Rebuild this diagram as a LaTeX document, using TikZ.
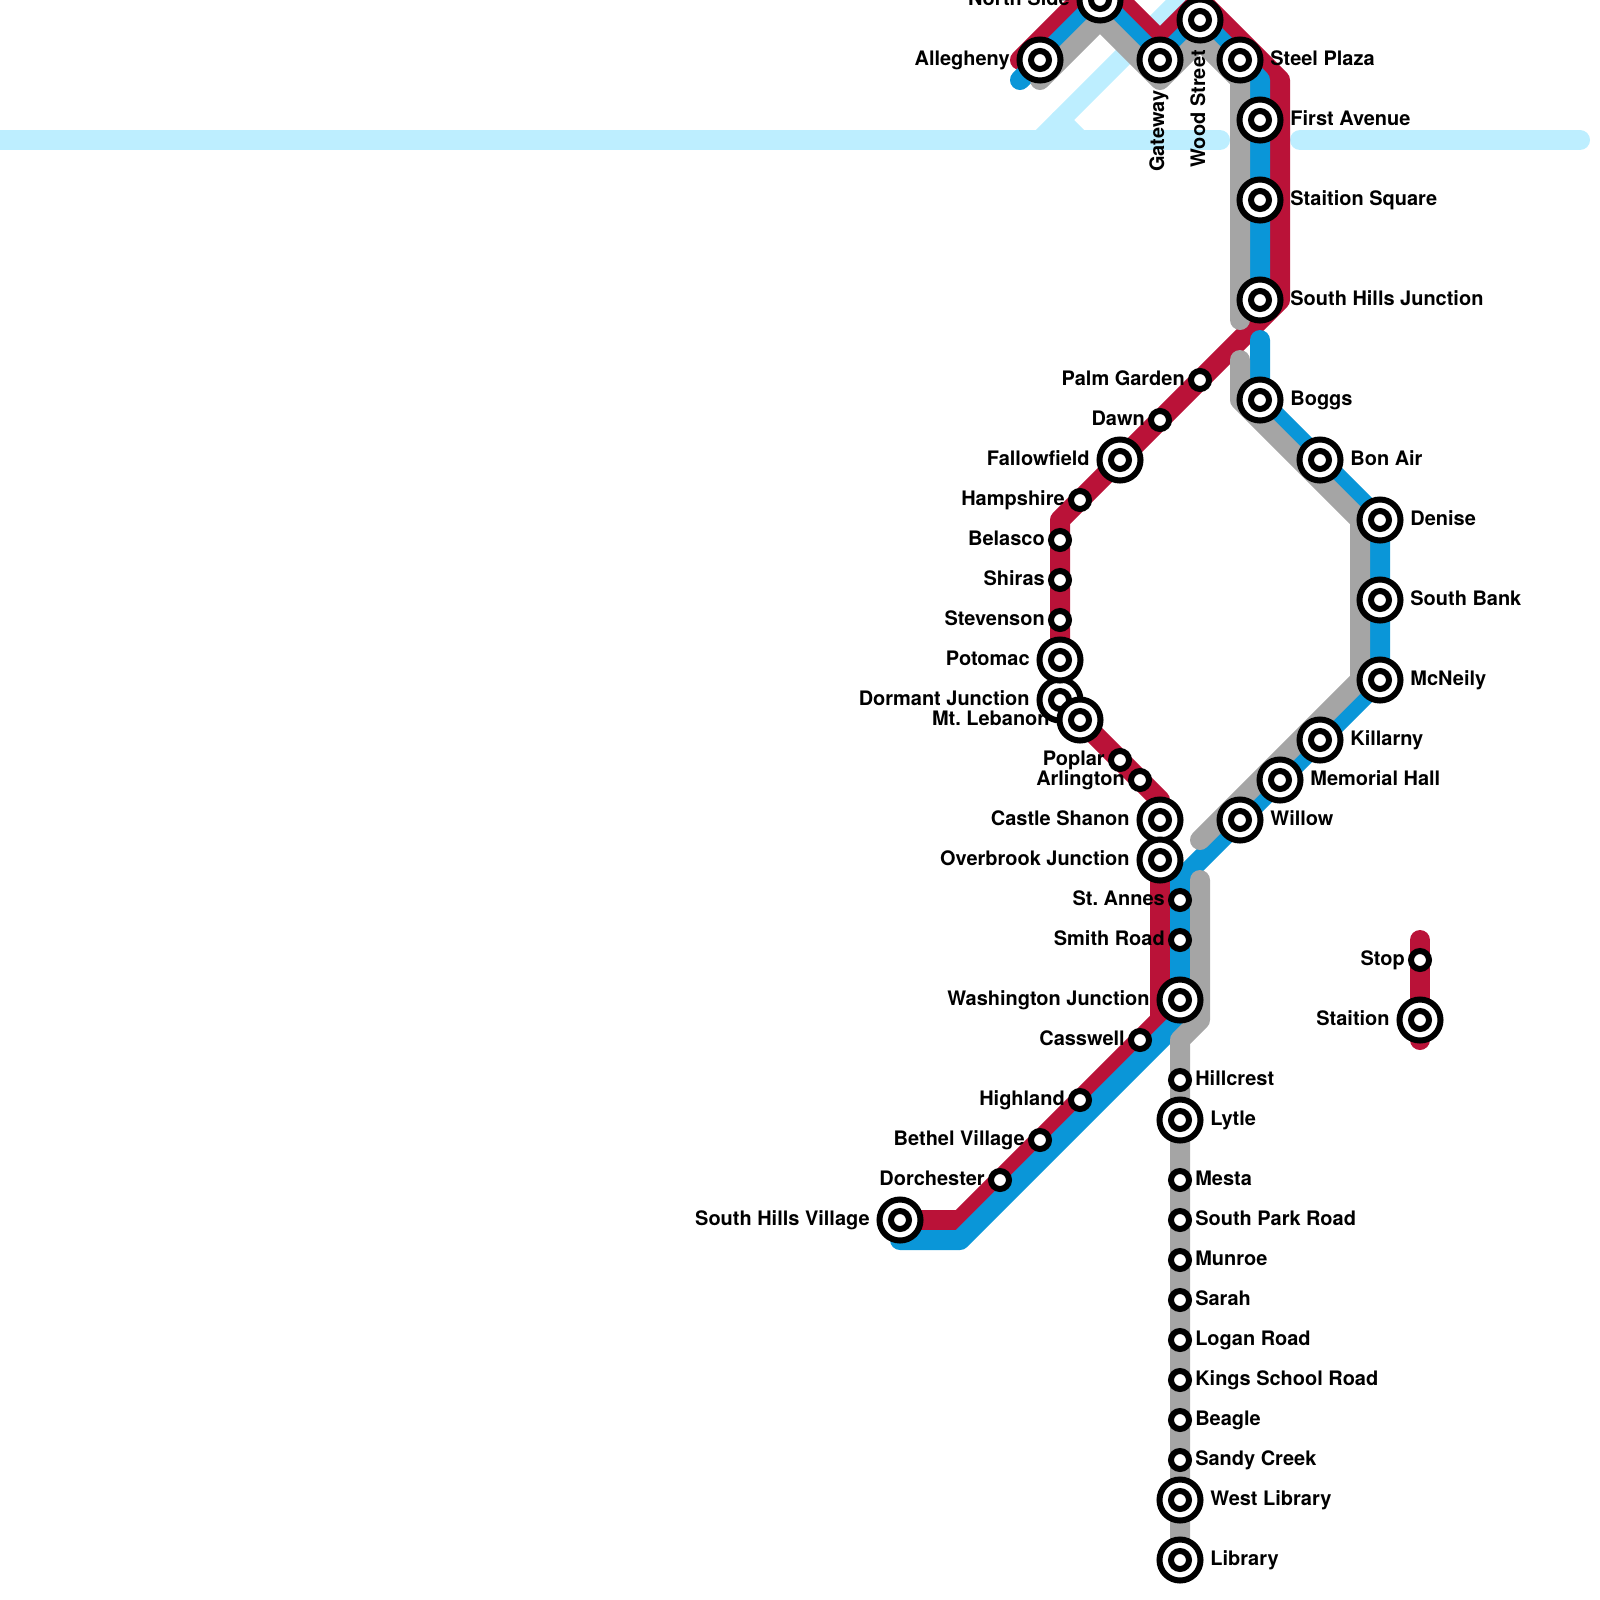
\documentclass[tikz,border=0pt]{standalone}
\usepackage{fontspec}
\setmainfont{TeX Gyre Heros}
\frenchspacing
\usetikzlibrary{positioning, backgrounds}
\definecolor{redline}{HTML}{BA1238}
\definecolor{blueline}{HTML}{0A96D8}
\definecolor{grayline}{HTML}{A5A5A5}
\definecolor{riverline}{HTML}{BDEEFF}
\tikzstyle{ln}=[line width=.5cm, line cap=round, line join=round]
\tikzstyle{stop}=[circle, draw=black, fill=white, line width=.15cm, inner sep=0pt, outer sep=0pt, minimum size=.45cm]
\tikzstyle{bigstop}=[stop, minimum size=1.025cm, path picture={\draw[line width=.15cm] (path picture bounding box.center) circle (.225cm);}]
\tikzstyle{lbl}=[font=\fontsize{14.2}{16}\selectfont\bfseries, inner sep=0pt, text height=.35cm, text depth=.1cm, node distance=.15cm]
\tikzstyle{biglbl}=[lbl, node distance=.24cm]

\begin{document}
\begin{tikzpicture}[x=.025cm, y=-.025cm]
    \useasboundingbox (0,0) rectangle (1600,1600);

    % west end and top branch
    \node[bigstop] (alg) at (1040,60) {};
    \node[biglbl, left=of alg] (talg) {Allegheny};
    \node[bigstop] (nside) at (1100,0) {};
    \node[biglbl, left=of nside] (tnside) {North Side};
    \node[bigstop] (gate) at (1160,60) {};
    \node[lbl, rotate=90, anchor=east] (tgate) at (1159,90) {Gateway};
    \node[bigstop] (wood) at (1200,20) {};
    \node[lbl, rotate=90, anchor=east] (twood) at (1200,50) {Wood Street};
    \node[bigstop] (steel) at (1240,60) {};
    \node[biglbl, right=of steel] (tsteel) {Steel Plaza};
    \node[bigstop] (first) at (1260,120) {};
    \node[biglbl, right=of first] (tfirst) {First Avenue};
    \node[bigstop] (ssq) at (1260,200) {};
    \node[biglbl, right=of ssq] (tssq) {Staition Square};
    \node[bigstop] (shj) at (1260,300) {};
    \node[biglbl, right=of shj] (tshj) {South Hills Junction};

    % red west side
    \node[stop] (palm) at (1200,380) {};
    \node[lbl, left=of palm] (tpalm) {Palm Garden};
    \node[stop] (dawn) at (1160,420) {};
    \node[lbl, left=of dawn] (tdawn) {Dawn};
    \node[bigstop] (fall) at (1120,460) {};
    \node[biglbl, left=of fall] (tfall) {Fallowfield};
    \node[stop] (hamp) at (1080,500) {};
    \node[lbl, left=of hamp] (thamp) {Hampshire};
    \node[stop] (bel) at (1060,540) {};
    \node[lbl, left=of bel] (tbel) {Belasco};
    \node[stop] (shir) at (1060,580) {};
    \node[lbl, left=of shir] (tshir) {Shiras};
    \node[stop] (stev) at (1060,620) {};
    \node[lbl, left=of stev] (tstev) {Stevenson};
    \node[bigstop] (dorm) at (1060,700) {};
    \node[biglbl, left=of dorm] (tdorm) {Dormant Junction};
    \node[bigstop] (pot) at (1060,660) {};
    \node[biglbl, left=of pot] (tpot) {Potomac};
    \node[bigstop] (leb) at (1080,720) {};
    \node[biglbl, left=of leb] (tleb) {Mt. Lebanon};
    \node[stop] (pop) at (1120,760) {};
    \node[lbl, left=of pop] (tpop) {Poplar};
    \node[stop] (arl) at (1140,780) {};
    \node[lbl, left=of arl] (tarl) {Arlington};
    \node[bigstop] (castle) at (1160,820) {};
    \node[biglbl, left=of castle] (tcastle) {Castle Shanon};
    \node[bigstop] (over) at (1160,860) {};
    \node[biglbl, left=of over] (tover) {Overbrook Junction};

    % blue east side
    \node[bigstop] (boggs) at (1260,400) {};
    \node[biglbl, right=of boggs] (tboggs) {Boggs};
    \node[bigstop] (bon) at (1320,460) {};
    \node[biglbl, right=of bon] (tbon) {Bon Air};
    \node[bigstop] (den) at (1380,520) {};
    \node[biglbl, right=of den] (tden) {Denise};
    \node[bigstop] (sbank) at (1380,600) {};
    \node[biglbl, right=of sbank] (tsbank) {South Bank};
    \node[bigstop] (mcn) at (1380,680) {};
    \node[biglbl, right=of mcn] (tmcn) {McNeily};
    \node[bigstop] (kil) at (1320,740) {};
    \node[biglbl, right=of kil] (tkil) {Killarny};
    \node[bigstop] (mem) at (1280,780) {};
    \node[biglbl, right=of mem] (tmem) {Memorial Hall};
    \node[bigstop] (wil) at (1240,820) {};
    \node[biglbl, right=of wil] (twil) {Willow};

    % trunk to the south
    \node[stop] (annes) at (1180,900) {};
    \node[lbl, left=of annes] (tannes) {St. Annes};
    \node[stop] (smith) at (1180,940) {};
    \node[lbl, left=of smith] (tsmith) {Smith Road};
    \node[bigstop] (wash) at (1180,1000) {};
    \node[biglbl, left=of wash] (twash) {Washington Junction};
    \node[stop] (cass) at (1140,1040) {};
    \node[lbl, left=of cass] (tcass) {Casswell};
    \node[stop] (high) at (1080,1100) {};
    \node[lbl, left=of high] (thigh) {Highland};
    \node[stop] (beth) at (1040,1140) {};
    \node[lbl, left=of beth] (tbeth) {Bethel Village};
    \node[stop] (dorch) at (1000,1180) {};
    \node[lbl, left=of dorch] (tdorch) {Dorchester};
    \node[bigstop] (shv) at (900,1220) {};
    \node[biglbl, left=of shv] (tshv) {South Hills Village};

    % gray to library
    \node[stop] (hill) at (1180,1080) {};
    \node[lbl, right=of hill] (thill) {Hillcrest};
    \node[bigstop] (lyt) at (1180,1120) {};
    \node[biglbl, right=of lyt] (tlyt) {Lytle};
    \node[stop] (mes) at (1180,1180) {};
    \node[lbl, right=of mes] (tmes) {Mesta};
    \node[stop] (spr) at (1180,1220) {};
    \node[lbl, right=of spr] (tspr) {South Park Road};
    \node[stop] (mun) at (1180,1260) {};
    \node[lbl, right=of mun] (tmun) {Munroe};
    \node[stop] (sar) at (1180,1300) {};
    \node[lbl, right=of sar] (tsar) {Sarah};
    \node[stop] (log) at (1180,1340) {};
    \node[lbl, right=of log] (tlog) {Logan Road};
    \node[stop] (kin) at (1180,1380) {};
    \node[lbl, right=of kin] (tkin) {Kings School Road};
    \node[stop] (bea) at (1180,1420) {};
    \node[lbl, right=of bea] (tbea) {Beagle};
    \node[stop] (san) at (1180,1460) {};
    \node[lbl, right=of san] (tsan) {Sandy Creek};
    \node[bigstop] (wlib) at (1180,1500) {};
    \node[biglbl, right=of wlib] (twlib) {West Library};
    \node[bigstop] (lib) at (1180,1560) {};
    \node[biglbl, right=of lib] (tlib) {Library};

    % the short piece
    \node[stop] (lstop) at (1420,960) {};
    \node[lbl, left=of lstop] (tlstop) {Stop};
    \node[bigstop] (lstn) at (1420,1020) {};
    \node[biglbl, left=of lstn] (tlstn) {Staition};

    % bends and line ends
    \coordinate (rv0) at (-20,140);
    \coordinate (rv1) at (1040,140);
    \coordinate (rv2) at (1200,-20);
    \coordinate (rv3) at (1060,120);
    \coordinate (rv4) at (1080,140);
    \coordinate (rv5) at (1220,140);
    \coordinate (rv6) at (1300,140);
    \coordinate (rv7) at (1580,140);
    \coordinate (r0) at (1020,60);
    \coordinate (r1) at (1100,-20);
    \coordinate (r2) at (1160,40);
    \coordinate (r3) at (1200,0);
    \coordinate (r4) at (1280,80);
    \coordinate (r5) at (1280,300);
    \coordinate (r6) at (1060,520);
    \coordinate (r7) at (1160,800);
    \coordinate (r8) at (1160,1020);
    \coordinate (r9) at (960,1220);
    \coordinate (r10) at (1420,940);
    \coordinate (r11) at (1420,1040);
    \coordinate (b0) at (1020,80);
    \coordinate (b1) at (1260,80);
    \coordinate (b2) at (1260,340);
    \coordinate (b3) at (1180,880);
    \coordinate (b4) at (1180,1020);
    \coordinate (b5) at (960,1240);
    \coordinate (b6) at (900,1240);
    \coordinate (g0) at (1040,80);
    \coordinate (g1) at (1100,20);
    \coordinate (g2) at (1160,80);
    \coordinate (g3) at (1200,40);
    \coordinate (g4) at (1240,80);
    \coordinate (g5) at (1240,320);
    \coordinate (g6) at (1240,360);
    \coordinate (g7) at (1240,400);
    \coordinate (g8) at (1360,520);
    \coordinate (g9) at (1360,680);
    \coordinate (g10) at (1200,840);
    \coordinate (g11) at (1200,880);
    \coordinate (g12) at (1200,1020);
    \coordinate (g13) at (1180,1040);

    \begin{scope}[on background layer]
        \draw[ln, riverline] (rv0)--(rv5);
        \draw[ln, riverline] (rv1)--(rv2);
        \draw[ln, riverline] (rv3)--(rv4);
        \draw[ln, riverline] (rv6)--(rv7);
        \draw[ln, redline] (r0)--(r1)--(r2)--(r3)--(r4)--(r5)--(r6)--(dorm.center)--(r7)--(r8)--(r9)--(shv.center);
        \draw[ln, redline] (r10)--(r11);
        \draw[ln, blueline] (b0)--(nside.center)--(gate.center)--(wood.center)--(b1)--(shj.center);
        \draw[ln, blueline] (b2)--(boggs.center)--(den.center)--(mcn.center)--(b3)--(b4)--(b5)--(b6);
        \draw[ln, grayline] (g0)--(g1)--(g2)--(g3)--(g4)--(g5);
        \draw[ln, grayline] (g6)--(g7)--(g8)--(g9)--(g10);
        \draw[ln, grayline] (g11)--(g12)--(g13)--(lib.center);
    \end{scope}
\end{tikzpicture}
\end{document}
